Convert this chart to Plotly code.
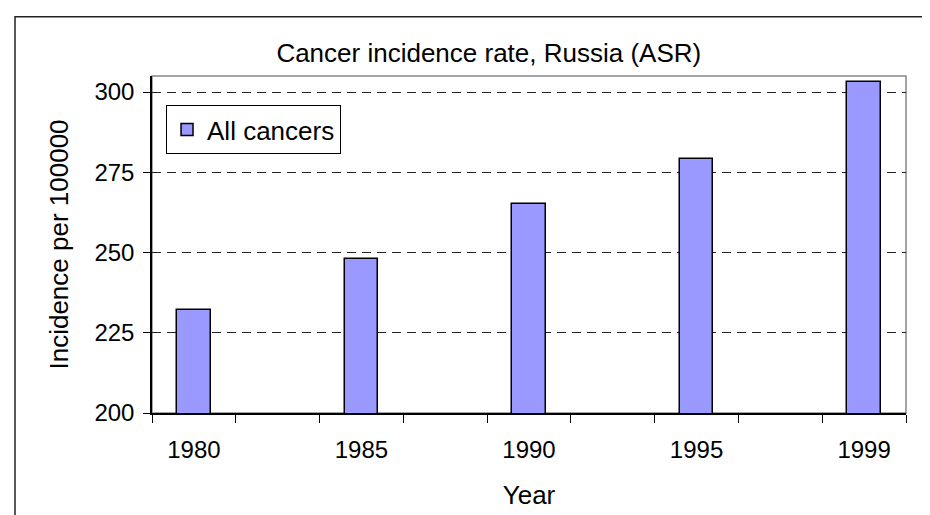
import plotly.graph_objects as go

# Excel-style chart: 9 category slots, only every other one is a year
categories = ["1980", "", "1985", "", "1990", "", "1995", "", "1999"]
incidence = [232, None, 248, None, 265, None, 279, None, 303]
y_ticks = [200, 225, 250, 275, 300]

slots = list(range(len(categories)))
bounds = [s - 0.5 for s in slots] + [slots[-1] + 0.5]

FONT = "Liberation Sans, Arial, sans-serif"

fig = go.Figure()
fig.add_trace(go.Bar(
    x=slots, y=incidence, name="All cancers",
    width=0.4,
    marker=dict(color="#9999FF", line=dict(color="black", width=1.5)),
))

fig.update_layout(
    width=930, height=515,
    margin=dict(l=144, r=32, t=68, b=110),
    paper_bgcolor="white", plot_bgcolor="white",
    font=dict(family=FONT, size=24, color="black"),
    title=dict(text="Cancer incidence rate, Russia (ASR)", font=dict(size=26),
               xref="container", x=0.517, xanchor="center",
               yref="container", y=0.912, yanchor="middle"),
    showlegend=True,
    legend=dict(x=0.0186, y=0.914, xanchor="left", yanchor="top",
                bgcolor="white", bordercolor="black", borderwidth=1,
                font=dict(size=26)),
    bargap=0,
)

fig.update_xaxes(
    range=[bounds[0], bounds[-1]],
    tickmode="array", tickvals=slots, ticktext=categories,
    ticks="", ticklabelstandoff=14, showgrid=False, zeroline=False,
    showline=True, linecolor="black", linewidth=1.5,
    minor=dict(tickvals=bounds, ticks="outside", ticklen=8,
               tickcolor="black", tickwidth=1, showgrid=False),
    title=dict(text="Year", font=dict(size=26), standoff=24),
)
fig.update_yaxes(
    range=[200, 305],
    tickmode="array", tickvals=y_ticks,
    ticks="outside", ticklen=7, tickcolor="black", tickwidth=1,
    ticklabelstandoff=4,
    showgrid=True, gridcolor="#222222", gridwidth=1, griddash="9px,6px",
    zeroline=False,
    showline=True, linecolor="black", linewidth=1.5,
    title=dict(text="Incidence per 100000", font=dict(size=26), standoff=18),
)

# plot-area border (grey on top/right) and the cropped outer chart frame
fig.add_shape(type="rect", xref="paper", yref="paper", x0=0, x1=1, y0=0, y1=1,
              line=dict(color="#888888", width=1.5), layer="below")
fig.add_shape(type="rect", xref="paper", yref="paper",
              x0=-0.1817, x1=1.1, y0=-0.4, y1=1.176,
              line=dict(color="#222222", width=1.5), layer="below")

fig.write_html("out.html")
